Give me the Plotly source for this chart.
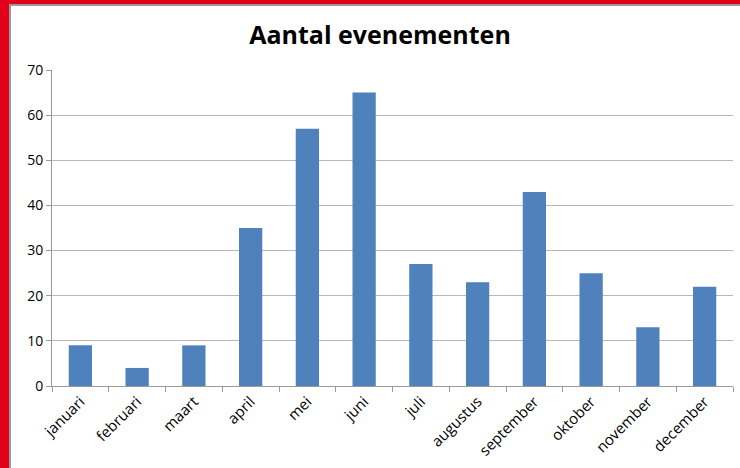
import plotly.graph_objects as go

months = ["januari", "februari", "maart", "april", "mei", "juni", "juli",
          "augustus", "september", "oktober", "november", "december"]
counts = [9, 4, 9, 35, 57, 65, 27, 23, 43, 25, 13, 22]
y_ticks = [0, 10, 20, 30, 40, 50, 60, 70]

W, H = 740, 468
L, R, T, B = 52, 7, 70, 82

fig = go.Figure(go.Bar(
    x=months, y=counts, marker=dict(color="#4F81BD", line=dict(width=0)),
    hoverinfo="skip",
))

fig.update_layout(
    width=W, height=H,
    margin=dict(l=L, r=R, t=T, b=B, autoexpand=False),
    paper_bgcolor="white", plot_bgcolor="white",
    title=dict(text="<b>Aantal evenementen</b>", x=380 / W, xanchor="center",
               y=1 - 35 / H, yanchor="middle", automargin=False,
               font=dict(family="Open Sans", size=25, color="black")),
    bargap=0.59,
    showlegend=False,
    hovermode=False,
    font=dict(family="Open Sans", color="black"),
)
fig.update_yaxes(range=[0, 70], tickvals=y_ticks, showgrid=True, gridcolor="#b8b8b8", gridwidth=1,
                 showline=True, linecolor="#9a9a9a", linewidth=1, ticks="outside", ticklen=5,
                 tickcolor="#9a9a9a", tickfont=dict(size=14, family="Open Sans", color="black"),
                 zeroline=False, automargin=False)
fig.update_xaxes(showline=True, linecolor="#9a9a9a", linewidth=1, ticks="outside", ticklen=5,
                 tickcolor="#9a9a9a", tickson="boundaries", tickangle=-45, automargin=False,
                 tickfont=dict(size=15, family="Open Sans", color="black"))

frame_js = """
document.body.style.margin='0';document.body.style.padding='0';
var o=document.createElement('div');
o.style.cssText='position:fixed;left:0;top:0;width:740px;height:468px;box-sizing:border-box;'+
 'border-left:9px solid #E3001B;border-top:4px solid #E3001B;pointer-events:none;z-index:9999;';
var g=document.createElement('div');
g.style.cssText='position:absolute;left:0;top:0;right:0;bottom:0;box-sizing:border-box;'+
 'border-left:2px solid #9a9a9a;border-top:2px solid #9a9a9a;';
o.appendChild(g);
document.body.appendChild(o);
"""

fig.write_html("out.html", config={"displayModeBar": False}, post_script=frame_js)
